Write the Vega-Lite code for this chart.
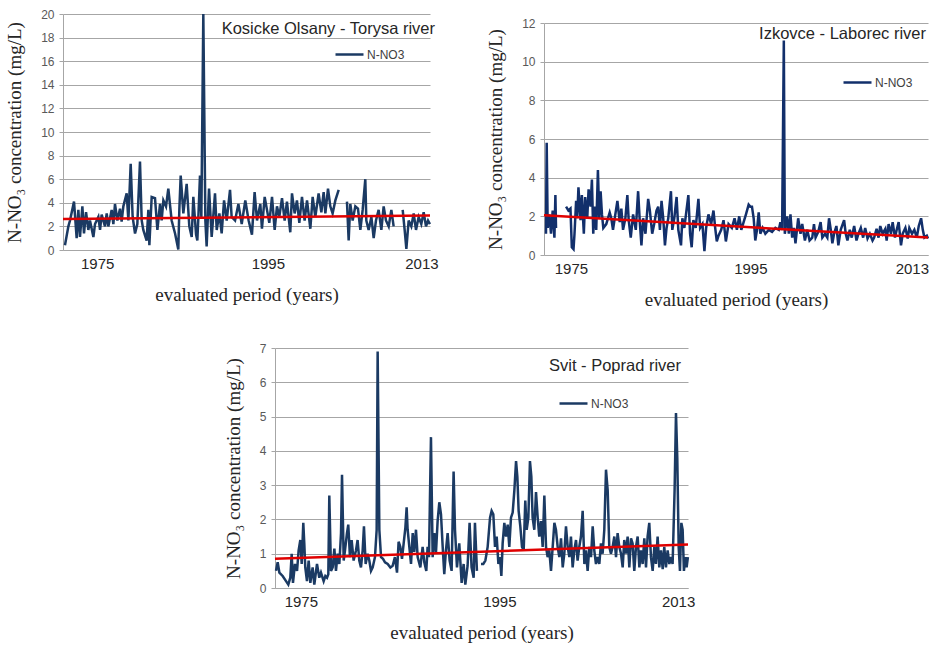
{
  "$schema": "https://vega.github.io/schema/vega-lite/v6.json",
  "background": "white",
  "padding": {"left": 5, "top": 8, "right": 5, "bottom": 5},
  "config": {
    "view": {"stroke": null},
    "font": "Liberation Sans",
    "axisX": {"grid": false, "ticks": false, "domainColor": "#a6a6a6", "labelFontSize": 15, "labelColor": "#262626", "labelPadding": 6, "labelFlush": false, "titleFont": "Liberation Serif", "titleFontSize": 19, "titleFontWeight": "normal", "titleColor": "#262626", "titlePadding": 14, "format": "d"},
    "axisY": {"grid": true, "gridColor": "#a6a6a6", "domainColor": "#a6a6a6", "tickColor": "#a6a6a6", "tickSize": 4, "tickCount": 40, "format": "d", "labelFontSize": 12, "labelColor": "#595959", "labelPadding": 5, "titleFont": "Liberation Serif", "titleFontSize": 19, "titleFontWeight": "normal", "titleColor": "#262626", "titlePadding": 16},
    "legend": {"orient": "none", "title": null, "symbolType": "stroke", "symbolStrokeWidth": 2.5, "symbolSize": 784, "labelFontSize": 12, "labelColor": "#404040", "labelOffset": 2, "padding": 0}
  },
  "datasets": {
    "p1": [
      {"t":1971.23,"v":0.4,"s":1},{"t":1971.63,"v":2.0,"s":1},{"t":1971.82,"v":2.5,"s":1},{"t":1972.29,"v":4.1,"s":1},{"t":1972.6,"v":1.0,"s":1},{"t":1972.8,"v":3.4,"s":1},{"t":1972.99,"v":1.1,"s":1},{"t":1973.27,"v":3.7,"s":1},{"t":1973.46,"v":1.4,"s":1},{"t":1973.7,"v":3.2,"s":1},{"t":1973.97,"v":1.7,"s":1},{"t":1974.16,"v":2.5,"s":1},{"t":1974.56,"v":1.1,"s":1},{"t":1974.75,"v":2.2,"s":1},{"t":1975.14,"v":2.8,"s":1},{"t":1975.34,"v":1.7,"s":1},{"t":1975.53,"v":3.0,"s":1},{"t":1975.92,"v":2.0,"s":1},{"t":1976.12,"v":3.1,"s":1},{"t":1976.31,"v":2.0,"s":1},{"t":1976.7,"v":3.4,"s":1},{"t":1976.9,"v":2.2,"s":1},{"t":1977.09,"v":3.9,"s":1},{"t":1977.37,"v":2.5,"s":1},{"t":1977.68,"v":3.5,"s":1},{"t":1977.87,"v":2.4,"s":1},{"t":1978.07,"v":3.7,"s":1},{"t":1978.46,"v":4.8,"s":1},{"t":1978.66,"v":2.5,"s":1},{"t":1978.93,"v":7.3,"s":1},{"t":1979.16,"v":2.8,"s":1},{"t":1979.44,"v":1.4,"s":1},{"t":1979.71,"v":2.2,"s":1},{"t":1980.02,"v":7.5,"s":1},{"t":1980.22,"v":2.5,"s":1},{"t":1980.41,"v":1.7,"s":1},{"t":1980.8,"v":0.8,"s":1},{"t":1981.0,"v":3.4,"s":1},{"t":1981.12,"v":0.4,"s":1},{"t":1981.39,"v":4.5,"s":1},{"t":1981.78,"v":4.4,"s":1},{"t":1982.06,"v":1.7,"s":1},{"t":1982.37,"v":3.9,"s":1},{"t":1982.56,"v":2.5,"s":1},{"t":1982.76,"v":4.2,"s":1},{"t":1983.07,"v":3.7,"s":1},{"t":1983.34,"v":5.2,"s":1},{"t":1983.73,"v":2.5,"s":1},{"t":1984.13,"v":1.4,"s":1},{"t":1984.51,"v":0.05,"s":1},{"t":1984.63,"v":3.4,"s":1},{"t":1984.79,"v":6.3,"s":1},{"t":1985.1,"v":3.1,"s":1},{"t":1985.49,"v":5.6,"s":1},{"t":1985.8,"v":2.0,"s":1},{"t":1986.08,"v":1.1,"s":1},{"t":1986.27,"v":4.5,"s":1},{"t":1986.59,"v":1.3,"s":1},{"t":1986.74,"v":0.8,"s":1},{"t":1986.86,"v":2.8,"s":1},{"t":1987.05,"v":6.3,"s":1},{"t":1987.21,"v":2.8,"s":1},{"t":1987.44,"v":20,"s":1},{"t":1987.68,"v":2.5,"s":1},{"t":1987.83,"v":0.3,"s":1},{"t":1988.11,"v":5.2,"s":1},{"t":1988.42,"v":1.1,"s":1},{"t":1988.81,"v":4.8,"s":1},{"t":1989.01,"v":1.7,"s":1},{"t":1989.32,"v":3.1,"s":1},{"t":1989.59,"v":1.4,"s":1},{"t":1989.87,"v":4.2,"s":1},{"t":1990.18,"v":2.5,"s":1},{"t":1990.57,"v":5.1,"s":1},{"t":1990.76,"v":2.8,"s":1},{"t":1991.16,"v":2.5,"s":1},{"t":1991.55,"v":3.9,"s":1},{"t":1991.94,"v":2.2,"s":1},{"t":1992.36,"v":4.2,"s":1},{"t":1992.75,"v":2.5,"s":1},{"t":1993.14,"v":1.3,"s":1},{"t":1993.45,"v":4.9,"s":1},{"t":1993.73,"v":2.5,"s":1},{"t":1994.12,"v":3.9,"s":1},{"t":1994.31,"v":1.8,"s":1},{"t":1994.63,"v":4.5,"s":1},{"t":1994.9,"v":3.4,"s":1},{"t":1995.17,"v":2.3,"s":1},{"t":1995.49,"v":4.5,"s":1},{"t":1995.8,"v":1.7,"s":1},{"t":1996.07,"v":3.7,"s":1},{"t":1996.34,"v":2.8,"s":1},{"t":1996.66,"v":4.4,"s":1},{"t":1996.97,"v":2.5,"s":1},{"t":1997.24,"v":4.1,"s":1},{"t":1997.63,"v":1.5,"s":1},{"t":1997.83,"v":4.8,"s":1},{"t":1998.14,"v":3.1,"s":1},{"t":1998.41,"v":4.2,"s":1},{"t":1998.69,"v":2.3,"s":1},{"t":1999.0,"v":4.5,"s":1},{"t":1999.31,"v":2.5,"s":1},{"t":1999.59,"v":4.2,"s":1},{"t":1999.98,"v":1.8,"s":1},{"t":2000.25,"v":4.5,"s":1},{"t":2000.56,"v":2.8,"s":1},{"t":2000.95,"v":4.8,"s":1},{"t":2001.27,"v":3.2,"s":1},{"t":2001.54,"v":4.9,"s":1},{"t":2001.74,"v":3.1,"s":1},{"t":2002.05,"v":5.2,"s":1},{"t":2002.32,"v":3.7,"s":1},{"t":2002.59,"v":3.1,"s":1},{"t":2002.91,"v":4.2,"s":1},{"t":2003.3,"v":5.1,"s":1},
      {"t":2004.27,"v":4.1,"s":2},{"t":2004.47,"v":0.8,"s":2},{"t":2004.66,"v":3.9,"s":2},{"t":2004.94,"v":2.5,"s":2},{"t":2005.25,"v":3.7,"s":2},{"t":2005.56,"v":3.5,"s":2},{"t":2005.84,"v":1.7,"s":2},{"t":2006.11,"v":3.4,"s":2},{"t":2006.42,"v":6.0,"s":2},{"t":2006.54,"v":2.5,"s":2},{"t":2006.81,"v":1.7,"s":2},{"t":2007.13,"v":2.8,"s":2},{"t":2007.4,"v":1.0,"s":2},{"t":2007.67,"v":2.5,"s":2},{"t":2007.98,"v":3.4,"s":2},{"t":2008.3,"v":1.7,"s":2},{"t":2008.57,"v":3.7,"s":2},{"t":2008.84,"v":2.5,"s":2},{"t":2009.16,"v":2.0,"s":2},{"t":2009.47,"v":3.4,"s":2},{"t":2009.74,"v":2.0,"s":2},
      {"t":2010.8,"v":3.4,"s":3},{"t":2011.03,"v":1.7,"s":3},{"t":2011.23,"v":0.1,"s":3},{"t":2011.5,"v":2.5,"s":3},{"t":2011.81,"v":2.0,"s":3},{"t":2012.09,"v":3.1,"s":3},{"t":2012.36,"v":1.7,"s":3},{"t":2012.67,"v":2.8,"s":3},{"t":2012.98,"v":2.2,"s":3},{"t":2013.26,"v":3.2,"s":3},{"t":2013.53,"v":2.0,"s":3},{"t":2013.77,"v":2.5,"s":3},{"t":2013.99,"v":2.2,"s":3}
    ],
    "p1trend": [{"t":1971,"v":2.63},{"t":2014,"v":2.92}],
    "p1label": [{"t":2014,"v":18.7,"label":"Kosicke Olsany - Torysa river"}],
    "p2": [
      {"t":1972.22,"v":1.1,"s":1},{"t":1972.3,"v":5.8,"s":1},{"t":1972.41,"v":1.4,"s":1},{"t":1972.6,"v":2.1,"s":1},{"t":1972.78,"v":1.1,"s":1},{"t":1972.97,"v":2.3,"s":1},{"t":1973.16,"v":0.9,"s":1},{"t":1973.27,"v":3.1,"s":1},{"t":1973.34,"v":1.4,"s":1},
      {"t":1974.46,"v":2.5,"s":2},{"t":1974.72,"v":2.3,"s":2},{"t":1974.95,"v":2.4,"s":2},{"t":1975.1,"v":0.4,"s":2},{"t":1975.29,"v":0.3,"s":2},{"t":1975.4,"v":1.1,"s":2},{"t":1975.58,"v":2.8,"s":2},{"t":1975.7,"v":1.9,"s":2},{"t":1975.84,"v":3.5,"s":2},{"t":1976.07,"v":1.8,"s":2},{"t":1976.22,"v":3.1,"s":2},{"t":1976.44,"v":1.1,"s":2},{"t":1976.59,"v":3.0,"s":2},{"t":1976.82,"v":1.9,"s":2},{"t":1976.97,"v":3.4,"s":2},{"t":1977.19,"v":2.5,"s":2},{"t":1977.34,"v":3.9,"s":2},{"t":1977.49,"v":1.1,"s":2},{"t":1977.64,"v":2.5,"s":2},{"t":1977.82,"v":1.3,"s":2},{"t":1978.01,"v":4.4,"s":2},{"t":1978.16,"v":1.9,"s":2},{"t":1978.31,"v":3.3,"s":2},{"t":1978.46,"v":2.1,"s":2},{"t":1978.61,"v":1.4,"s":2},{"t":1978.94,"v":1.6,"s":2},{"t":1979.32,"v":2.2,"s":2},{"t":1979.5,"v":1.9,"s":2},{"t":1979.69,"v":1.3,"s":2},{"t":1979.95,"v":2.1,"s":2},{"t":1980.18,"v":2.8,"s":2},{"t":1980.44,"v":1.7,"s":2},{"t":1980.62,"v":2.4,"s":2},{"t":1980.81,"v":1.3,"s":2},{"t":1981.07,"v":1.9,"s":2},{"t":1981.29,"v":3.1,"s":2},{"t":1981.44,"v":1.8,"s":2},{"t":1981.67,"v":0.9,"s":2},{"t":1981.93,"v":2.1,"s":2},{"t":1982.23,"v":1.3,"s":2},{"t":1982.49,"v":3.3,"s":2},{"t":1982.68,"v":1.7,"s":2},{"t":1982.86,"v":0.5,"s":2},{"t":1983.05,"v":1.9,"s":2},{"t":1983.31,"v":1.1,"s":2},{"t":1983.61,"v":2.9,"s":2},{"t":1983.8,"v":2.3,"s":2},{"t":1984.06,"v":1.1,"s":2},{"t":1984.28,"v":1.6,"s":2},{"t":1984.54,"v":2.3,"s":2},{"t":1984.73,"v":2.5,"s":2},{"t":1984.92,"v":1.3,"s":2},{"t":1985.1,"v":2.8,"s":2},{"t":1985.29,"v":1.9,"s":2},{"t":1985.48,"v":0.5,"s":2},{"t":1985.66,"v":1.4,"s":2},{"t":1985.85,"v":1.9,"s":2},{"t":1986.15,"v":3.3,"s":2},{"t":1986.3,"v":1.3,"s":2},{"t":1986.52,"v":1.9,"s":2},{"t":1986.78,"v":3.0,"s":2},{"t":1986.97,"v":1.3,"s":2},{"t":1987.27,"v":0.5,"s":2},{"t":1987.42,"v":1.9,"s":2},{"t":1987.64,"v":1.4,"s":2},{"t":1988.09,"v":3.1,"s":2},{"t":1988.28,"v":1.1,"s":2},{"t":1988.46,"v":0.4,"s":2},{"t":1988.65,"v":1.8,"s":2},{"t":1988.91,"v":1.4,"s":2},{"t":1989.21,"v":2.9,"s":2},{"t":1989.4,"v":1.4,"s":2},{"t":1989.66,"v":1.6,"s":2},{"t":1989.88,"v":0.2,"s":2},{"t":1990.07,"v":1.4,"s":2},{"t":1990.33,"v":2.1,"s":2},{"t":1990.63,"v":1.6,"s":2},{"t":1990.89,"v":2.3,"s":2},{"t":1991.08,"v":1.4,"s":2},{"t":1991.26,"v":0.7,"s":2},{"t":1991.45,"v":1.0,"s":2},{"t":1991.75,"v":1.3,"s":2},{"t":1992.01,"v":1.8,"s":2},{"t":1992.27,"v":0.7,"s":2},{"t":1992.57,"v":1.6,"s":2},{"t":1992.94,"v":1.4,"s":2},{"t":1993.24,"v":1.9,"s":2},{"t":1993.5,"v":1.3,"s":2},{"t":1993.76,"v":2.0,"s":2},{"t":1993.99,"v":1.3,"s":2},{"t":1994.25,"v":1.7,"s":2},{"t":1994.51,"v":2.1,"s":2},{"t":1994.81,"v":2.6,"s":2},{"t":1994.99,"v":2.5,"s":2},{"t":1995.18,"v":2.5,"s":2},{"t":1995.37,"v":1.9,"s":2},{"t":1995.55,"v":0.75,"s":2},{"t":1995.74,"v":1.3,"s":2},{"t":1995.93,"v":2.2,"s":2},{"t":1996.11,"v":1.1,"s":2},{"t":1996.37,"v":1.4,"s":2},{"t":1996.67,"v":1.1,"s":2},{"t":1997.05,"v":1.3,"s":2},{"t":1997.42,"v":1.2,"s":2},{"t":1997.79,"v":1.4,"s":2},{"t":1998.17,"v":1.3,"s":2},{"t":1998.35,"v":1.7,"s":2},{"t":1998.54,"v":1.3,"s":2},{"t":1998.73,"v":11.1,"s":2},{"t":1998.84,"v":1.1,"s":2},{"t":1999.1,"v":2.0,"s":2},{"t":1999.29,"v":1.1,"s":2},{"t":1999.47,"v":2.1,"s":2},{"t":1999.66,"v":0.9,"s":2},{"t":1999.85,"v":1.4,"s":2},{"t":2000.03,"v":0.6,"s":2},{"t":2000.33,"v":1.9,"s":2},{"t":2000.59,"v":1.1,"s":2},{"t":2000.78,"v":1.6,"s":2},{"t":2001.08,"v":0.75,"s":2},{"t":2001.34,"v":1.3,"s":2},{"t":2001.6,"v":0.75,"s":2},{"t":2001.9,"v":0.9,"s":2},{"t":2002.09,"v":1.6,"s":2},{"t":2002.27,"v":0.9,"s":2},{"t":2002.57,"v":1.2,"s":2},{"t":2002.83,"v":1.7,"s":2},{"t":2003.02,"v":0.9,"s":2},{"t":2003.32,"v":1.1,"s":2},{"t":2003.58,"v":0.9,"s":2},{"t":2003.77,"v":1.9,"s":2},{"t":2003.95,"v":1.35,"s":2},{"t":2004.14,"v":0.6,"s":2},{"t":2004.33,"v":1.1,"s":2},{"t":2004.59,"v":1.5,"s":2},{"t":2004.81,"v":0.5,"s":2},{"t":2005.07,"v":1.3,"s":2},{"t":2005.45,"v":1.8,"s":2},{"t":2005.63,"v":1.1,"s":2},{"t":2005.82,"v":0.75,"s":2},{"t":2006.08,"v":1.3,"s":2},{"t":2006.3,"v":0.9,"s":2},{"t":2006.57,"v":1.5,"s":2},{"t":2006.83,"v":0.75,"s":2},{"t":2007.05,"v":1.1,"s":2},{"t":2007.31,"v":1.4,"s":2},{"t":2007.57,"v":0.9,"s":2},{"t":2007.8,"v":1.4,"s":2},{"t":2008.06,"v":0.85,"s":2},{"t":2008.32,"v":1.1,"s":2},{"t":2008.62,"v":0.75,"s":2},{"t":2008.8,"v":0.9,"s":2},{"t":2009.07,"v":1.35,"s":2},{"t":2009.29,"v":0.9,"s":2},{"t":2009.48,"v":1.5,"s":2},{"t":2009.74,"v":1.1,"s":2},{"t":2010.04,"v":1.35,"s":2},{"t":2010.19,"v":0.75,"s":2},{"t":2010.41,"v":1.6,"s":2},{"t":2010.67,"v":1.1,"s":2},{"t":2010.86,"v":1.7,"s":2},{"t":2011.12,"v":0.9,"s":2},{"t":2011.31,"v":1.3,"s":2},{"t":2011.53,"v":1.7,"s":2},{"t":2011.79,"v":0.5,"s":2},{"t":2011.98,"v":1.1,"s":2},{"t":2012.28,"v":1.4,"s":2},{"t":2012.54,"v":0.85,"s":2},{"t":2012.72,"v":1.4,"s":2},{"t":2013.02,"v":1.1,"s":2},{"t":2013.28,"v":1.3,"s":2},{"t":2013.55,"v":0.9,"s":2},{"t":2013.77,"v":1.5,"s":2},{"t":2014.03,"v":1.9,"s":2},{"t":2014.22,"v":1.3,"s":2},{"t":2014.4,"v":0.9,"s":2},{"t":2014.67,"v":1.0,"s":2},{"t":2014.8,"v":0.85,"s":2}
    ],
    "p2trend": [{"t":1972,"v":2.05},{"t":2014.8,"v":0.9}],
    "p2label": [{"t":2014.8,"v":11.45,"label":"Izkovce - Laborec river"}],
    "p3": [
      {"t":1972.5,"v":0.5,"s":1},{"t":1972.67,"v":0.75,"s":1},{"t":1972.84,"v":0.45,"s":1},{"t":1973.17,"v":0.35,"s":1},{"t":1973.51,"v":0.2,"s":1},{"t":1973.74,"v":0.1,"s":1},{"t":1973.94,"v":0.3,"s":1},{"t":1974.08,"v":1.0,"s":1},{"t":1974.21,"v":0.15,"s":1},{"t":1974.41,"v":0.7,"s":1},{"t":1974.62,"v":0.5,"s":1},{"t":1974.78,"v":1.1,"s":1},{"t":1974.95,"v":1.4,"s":1},{"t":1975.09,"v":0.7,"s":1},{"t":1975.25,"v":1.9,"s":1},{"t":1975.35,"v":1.3,"s":1},{"t":1975.45,"v":0.6,"s":1},{"t":1975.62,"v":0.2,"s":1},{"t":1975.79,"v":0.8,"s":1},{"t":1975.96,"v":0.15,"s":1},{"t":1976.19,"v":0.6,"s":1},{"t":1976.36,"v":0.1,"s":1},{"t":1976.63,"v":0.7,"s":1},{"t":1976.86,"v":0.3,"s":1},{"t":1977.03,"v":0.45,"s":1},{"t":1977.3,"v":0.2,"s":1},{"t":1977.47,"v":0.35,"s":1},{"t":1977.64,"v":0.3,"s":1},{"t":1977.77,"v":0.4,"s":1},{"t":1977.87,"v":2.7,"s":1},{"t":1978.04,"v":0.5,"s":1},{"t":1978.21,"v":0.6,"s":1},{"t":1978.38,"v":1.15,"s":1},{"t":1978.54,"v":0.5,"s":1},{"t":1978.71,"v":1.0,"s":1},{"t":1978.88,"v":0.7,"s":1},{"t":1979.05,"v":1.6,"s":1},{"t":1979.15,"v":3.3,"s":1},{"t":1979.32,"v":0.8,"s":1},{"t":1979.45,"v":1.1,"s":1},{"t":1979.65,"v":1.6,"s":1},{"t":1979.78,"v":1.85,"s":1},{"t":1979.95,"v":0.9,"s":1},{"t":1980.12,"v":1.4,"s":1},{"t":1980.32,"v":0.8,"s":1},{"t":1980.56,"v":1.1,"s":1},{"t":1980.72,"v":1.4,"s":1},{"t":1980.89,"v":0.8,"s":1},{"t":1981.06,"v":0.6,"s":1},{"t":1981.23,"v":1.1,"s":1},{"t":1981.36,"v":1.8,"s":1},{"t":1981.53,"v":0.7,"s":1},{"t":1981.73,"v":1.0,"s":1},{"t":1981.9,"v":0.8,"s":1},{"t":1982.07,"v":0.5,"s":1},{"t":1982.24,"v":0.6,"s":1},{"t":1982.47,"v":0.9,"s":1},{"t":1982.64,"v":1.7,"s":1},{"t":1982.74,"v":6.9,"s":1},{"t":1982.91,"v":1.7,"s":1},{"t":1983.08,"v":0.9,"s":1},{"t":1983.28,"v":0.85,"s":1},{"t":1983.48,"v":0.75,"s":1},{"t":1983.75,"v":0.7,"s":1},{"t":1984.02,"v":0.6,"s":1},{"t":1984.25,"v":0.65,"s":1},{"t":1984.48,"v":0.9,"s":1},{"t":1984.69,"v":0.45,"s":1},{"t":1984.85,"v":1.35,"s":1},{"t":1985.02,"v":1.2,"s":1},{"t":1985.19,"v":0.85,"s":1},{"t":1985.36,"v":1.3,"s":1},{"t":1985.53,"v":1.75,"s":1},{"t":1985.66,"v":2.35,"s":1},{"t":1985.76,"v":1.7,"s":1},{"t":1985.93,"v":1.2,"s":1},{"t":1986.1,"v":0.7,"s":1},{"t":1986.27,"v":1.6,"s":1},{"t":1986.43,"v":1.05,"s":1},{"t":1986.6,"v":1.7,"s":1},{"t":1986.77,"v":0.9,"s":1},{"t":1987.04,"v":0.6,"s":1},{"t":1987.27,"v":1.2,"s":1},{"t":1987.44,"v":0.75,"s":1},{"t":1987.64,"v":0.5,"s":1},{"t":1987.77,"v":1.2,"s":1},{"t":1987.91,"v":0.9,"s":1},{"t":1988.11,"v":4.4,"s":1},{"t":1988.28,"v":0.9,"s":1},{"t":1988.45,"v":1.6,"s":1},{"t":1988.61,"v":1.0,"s":1},{"t":1988.78,"v":1.95,"s":1},{"t":1988.95,"v":2.5,"s":1},{"t":1989.12,"v":2.15,"s":1},{"t":1989.29,"v":1.2,"s":1},{"t":1989.45,"v":0.4,"s":1},{"t":1989.62,"v":1.1,"s":1},{"t":1989.79,"v":1.6,"s":1},{"t":1989.99,"v":0.8,"s":1},{"t":1990.19,"v":0.5,"s":1},{"t":1990.39,"v":3.4,"s":1},{"t":1990.53,"v":1.7,"s":1},{"t":1990.73,"v":0.6,"s":1},{"t":1990.96,"v":1.3,"s":1},{"t":1991.2,"v":0.15,"s":1},{"t":1991.4,"v":0.7,"s":1},{"t":1991.57,"v":0.1,"s":1},{"t":1991.8,"v":0.65,"s":1},{"t":1992.0,"v":1.9,"s":1},{"t":1992.2,"v":0.6,"s":1},{"t":1992.41,"v":0.3,"s":1},{"t":1992.54,"v":1.9,"s":1},{"t":1992.74,"v":0.5,"s":1},
      {"t":1993.15,"v":0.7,"s":2},{"t":1993.38,"v":0.7,"s":2},{"t":1993.59,"v":0.8,"s":2},{"t":1993.82,"v":1.2,"s":2},{"t":1994.06,"v":2.05,"s":2},{"t":1994.22,"v":2.25,"s":2},{"t":1994.39,"v":2.15,"s":2},{"t":1994.56,"v":1.2,"s":2},{"t":1994.73,"v":1.5,"s":2},{"t":1994.9,"v":0.7,"s":2},{"t":1995.06,"v":0.9,"s":2},{"t":1995.2,"v":0.35,"s":2},{"t":1995.33,"v":1.3,"s":2},{"t":1995.5,"v":1.9,"s":2},{"t":1995.67,"v":1.5,"s":2},{"t":1995.84,"v":1.85,"s":2},{"t":1996.0,"v":1.2,"s":2},{"t":1996.17,"v":2.05,"s":2},{"t":1996.34,"v":2.2,"s":2},{"t":1996.51,"v":2.85,"s":2},{"t":1996.68,"v":3.7,"s":2},{"t":1996.81,"v":3.25,"s":2},{"t":1996.94,"v":2.25,"s":2},{"t":1997.11,"v":1.8,"s":2},{"t":1997.28,"v":1.2,"s":2},{"t":1997.45,"v":1.1,"s":2},{"t":1997.61,"v":2.55,"s":2},{"t":1997.75,"v":1.7,"s":2},{"t":1997.92,"v":2.05,"s":2},{"t":1998.08,"v":3.7,"s":2},{"t":1998.22,"v":3.25,"s":2},{"t":1998.35,"v":2.05,"s":2},{"t":1998.52,"v":1.7,"s":2},{"t":1998.69,"v":2.8,"s":2},{"t":1998.86,"v":2.05,"s":2},{"t":1999.02,"v":1.5,"s":2},{"t":1999.19,"v":1.95,"s":2},{"t":1999.36,"v":1.2,"s":2},{"t":1999.53,"v":2.7,"s":2},{"t":1999.7,"v":1.2,"s":2},{"t":1999.86,"v":0.9,"s":2},{"t":2000.03,"v":1.1,"s":2},{"t":2000.2,"v":0.5,"s":2},{"t":2000.37,"v":1.2,"s":2},{"t":2000.54,"v":1.9,"s":2},{"t":2000.7,"v":1.7,"s":2},{"t":2000.87,"v":1.2,"s":2},{"t":2001.04,"v":0.9,"s":2},{"t":2001.21,"v":1.45,"s":2},{"t":2001.38,"v":0.6,"s":2},{"t":2001.54,"v":1.0,"s":2},{"t":2001.71,"v":1.8,"s":2},{"t":2001.88,"v":1.2,"s":2},{"t":2002.05,"v":0.9,"s":2},{"t":2002.21,"v":1.5,"s":2},{"t":2002.38,"v":0.6,"s":2},{"t":2002.55,"v":1.1,"s":2},{"t":2002.72,"v":1.4,"s":2},{"t":2002.88,"v":0.8,"s":2},{"t":2003.05,"v":1.2,"s":2},{"t":2003.22,"v":1.5,"s":2},{"t":2003.39,"v":2.25,"s":2},{"t":2003.56,"v":0.7,"s":2},{"t":2003.72,"v":1.1,"s":2},{"t":2003.89,"v":0.5,"s":2},{"t":2004.06,"v":1.2,"s":2},{"t":2004.23,"v":0.9,"s":2},{"t":2004.4,"v":1.8,"s":2},{"t":2004.56,"v":1.1,"s":2},{"t":2004.73,"v":0.7,"s":2},{"t":2004.9,"v":0.9,"s":2},{"t":2005.07,"v":0.7,"s":2},{"t":2005.23,"v":1.3,"s":2},{"t":2005.4,"v":1.0,"s":2},{"t":2005.57,"v":1.7,"s":2},{"t":2005.74,"v":3.45,"s":2},{"t":2005.91,"v":2.85,"s":2},{"t":2006.07,"v":1.2,"s":2},{"t":2006.24,"v":1.0,"s":2},{"t":2006.41,"v":1.2,"s":2},{"t":2006.58,"v":1.5,"s":2},{"t":2006.75,"v":0.9,"s":2},{"t":2006.91,"v":1.6,"s":2},{"t":2007.08,"v":1.2,"s":2},{"t":2007.25,"v":1.0,"s":2},{"t":2007.42,"v":0.6,"s":2},{"t":2007.58,"v":1.4,"s":2},{"t":2007.75,"v":1.0,"s":2},{"t":2007.92,"v":1.5,"s":2},{"t":2008.09,"v":0.6,"s":2},{"t":2008.26,"v":1.45,"s":2},{"t":2008.42,"v":1.3,"s":2},{"t":2008.59,"v":0.5,"s":2},{"t":2008.76,"v":1.2,"s":2},{"t":2008.93,"v":1.5,"s":2},{"t":2009.1,"v":0.6,"s":2},{"t":2009.26,"v":1.1,"s":2},{"t":2009.43,"v":0.7,"s":2},{"t":2009.6,"v":1.45,"s":2},{"t":2009.77,"v":0.6,"s":2},{"t":2009.93,"v":1.5,"s":2},{"t":2010.1,"v":1.9,"s":2},{"t":2010.27,"v":0.9,"s":2},{"t":2010.44,"v":0.5,"s":2},{"t":2010.61,"v":1.2,"s":2},{"t":2010.77,"v":0.7,"s":2},{"t":2010.94,"v":1.5,"s":2},{"t":2011.11,"v":0.6,"s":2},{"t":2011.28,"v":1.1,"s":2},{"t":2011.45,"v":0.55,"s":2},{"t":2011.61,"v":1.2,"s":2},{"t":2011.78,"v":0.6,"s":2},{"t":2011.95,"v":1.1,"s":2},{"t":2012.12,"v":0.7,"s":2},{"t":2012.29,"v":0.9,"s":2},{"t":2012.45,"v":0.7,"s":2},{"t":2012.65,"v":2.85,"s":2},{"t":2012.79,"v":5.1,"s":2},{"t":2012.92,"v":3.8,"s":2},{"t":2013.06,"v":1.2,"s":2},{"t":2013.19,"v":0.5,"s":2},{"t":2013.33,"v":1.9,"s":2},{"t":2013.46,"v":1.7,"s":2},{"t":2013.59,"v":0.5,"s":2},{"t":2013.73,"v":0.9,"s":2},{"t":2013.86,"v":0.6,"s":2},{"t":2013.99,"v":0.9,"s":2}
    ],
    "p3trend": [{"t":1972.4,"v":0.85},{"t":2014,"v":1.27}],
    "p3label": [{"t":2013.3,"v":6.47,"label":"Svit - Poprad river"}],
    "empty": []
  },
  "resolve": {"scale": {"color": "independent", "x": "independent", "y": "independent"}, "legend": {"color": "independent"}},
  "spacing": 33,
  "vconcat": [
    {
      "resolve": {"scale": {"color": "independent", "x": "independent", "y": "independent"}, "legend": {"color": "independent"}},
      "spacing": 47,
      "hconcat": [
        {
          "width": 367, "height": 236,
          "layer": [
            {
              "data": {"name": "p1"},
              "mark": {"type": "line", "strokeWidth": 2.5, "interpolate": "linear"},
              "encoding": {
                "x": {"field": "t", "type": "quantitative", "scale": {"domain": [1971, 2014], "nice": false, "zero": false}, "axis": {"title": "evaluated period (years)", "values": [1975, 1995, 2013]}},
                "y": {"field": "v", "type": "quantitative", "scale": {"domain": [0, 20], "nice": false}, "axis": {"title": "N-NO₃ concentration  (mg/L)", "values": [0, 2, 4, 6, 8, 10, 12, 14, 16, 18, 20]}},
                "detail": {"field": "s", "type": "nominal"},
                "color": {"datum": "N-NO3", "scale": {"range": ["#1b3a63"]}, "legend": {"legendX": 271, "legendY": 25}}
              }
            },
            {
              "data": {"name": "p1trend"},
              "mark": {"type": "line", "color": "#e00000", "strokeWidth": 2.5},
              "encoding": {"x": {"field": "t", "type": "quantitative"}, "y": {"field": "v", "type": "quantitative"}}
            },
            {
              "data": {"name": "p1label"},
              "mark": {"type": "text", "align": "right", "baseline": "middle", "dx": 5, "fontSize": 16.5, "color": "#262626"},
              "encoding": {"x": {"field": "t", "type": "quantitative"}, "y": {"field": "v", "type": "quantitative"}, "text": {"field": "label"}}
            }
          ]
        },
        {
          "spacing": 2,
          "vconcat": [
            {"width": 1, "height": 1, "data": {"name": "empty"}, "mark": "point", "encoding": {}},
            {
              "width": 384, "height": 232,
              "layer": [
                {
                  "data": {"name": "p2"},
                  "mark": {"type": "line", "strokeWidth": 2.5, "interpolate": "linear"},
                  "encoding": {
                    "x": {"field": "t", "type": "quantitative", "scale": {"domain": [1972, 2014.8], "nice": false, "zero": false}, "axis": {"title": "evaluated period (years)", "values": [1975, 1995, 2013]}},
                    "y": {"field": "v", "type": "quantitative", "scale": {"domain": [0, 12], "nice": false}, "axis": {"title": "N-NO₃ concentration  (mg/L)", "values": [0, 2, 4, 6, 8, 10, 12]}},
                    "detail": {"field": "s", "type": "nominal"},
                    "color": {"datum": "N-NO3", "scale": {"range": ["#122f6b"]}, "legend": {"legendX": 298, "legendY": 53}}
                  }
                },
                {
                  "data": {"name": "p2trend"},
                  "mark": {"type": "line", "color": "#e00000", "strokeWidth": 2.5},
                  "encoding": {"x": {"field": "t", "type": "quantitative"}, "y": {"field": "v", "type": "quantitative"}}
                },
                {
                  "data": {"name": "p2label"},
                  "mark": {"type": "text", "align": "right", "baseline": "middle", "dx": -2, "fontSize": 16.5, "color": "#262626"},
                  "encoding": {"x": {"field": "t", "type": "quantitative"}, "y": {"field": "v", "type": "quantitative"}, "text": {"field": "label"}}
                }
              ]
            }
          ]
        }
      ]
    },
    {
      "spacing": 160,
      "hconcat": [
        {"width": 1, "height": 1, "data": {"name": "empty"}, "mark": "point", "encoding": {}},
        {
          "width": 413, "height": 240,
          "layer": [
            {
              "data": {"name": "p3"},
              "mark": {"type": "line", "strokeWidth": 2.5, "interpolate": "linear"},
              "encoding": {
                "x": {"field": "t", "type": "quantitative", "scale": {"domain": [1972.4, 2014], "nice": false, "zero": false}, "axis": {"title": "evaluated period (years)", "values": [1975, 1995, 2013]}},
                "y": {"field": "v", "type": "quantitative", "scale": {"domain": [0, 7], "nice": false}, "axis": {"title": "N-NO₃ concentration  (mg/L)", "values": [0, 1, 2, 3, 4, 5, 6, 7]}},
                "detail": {"field": "s", "type": "nominal"},
                "color": {"datum": "N-NO3", "scale": {"range": ["#1b3a63"]}, "legend": {"legendX": 495, "legendY": 40}}
              }
            },
            {
              "data": {"name": "p3trend"},
              "mark": {"type": "line", "color": "#e00000", "strokeWidth": 2.5},
              "encoding": {"x": {"field": "t", "type": "quantitative"}, "y": {"field": "v", "type": "quantitative"}}
            },
            {
              "data": {"name": "p3label"},
              "mark": {"type": "text", "align": "right", "baseline": "middle", "fontSize": 16.5, "color": "#262626"},
              "encoding": {"x": {"field": "t", "type": "quantitative"}, "y": {"field": "v", "type": "quantitative"}, "text": {"field": "label"}}
            }
          ]
        }
      ]
    }
  ]
}
